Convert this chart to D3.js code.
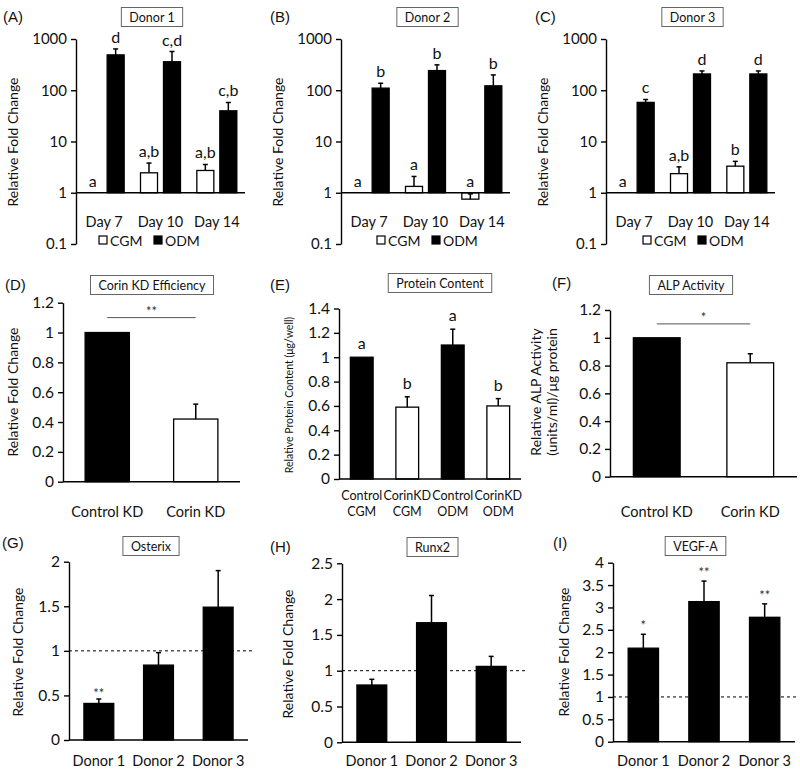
<!DOCTYPE html>
<html><head><meta charset="utf-8">
<script src="https://cdn.jsdelivr.net/npm/d3@7"></script>
<style>
body{margin:0;background:#fff}
svg{display:block}
text{font-family:Lato,"Open Sans",sans-serif;fill:#111}
</style>
</head><body>
<svg id="chart" width="800" height="774"></svg>
<script>
// ---------------- DATA ----------------
const days = ["Day 7", "Day 10", "Day 14"];
const media = ["CGM", "ODM"];
const donorTitles = ["Donor 1", "Donor 2", "Donor 3"];
const logTicks = [0.1, 1, 10, 100, 1000];

// Donor 1 (A)
const d1CGM = [1, 2.45, 2.72];
const d1CGMErr = [0, 1.35, 0.84];
const d1ODM = [490, 360, 39.7];
const d1ODMErr = [150, 210, 18];
const d1CGMLetters = ["a", "a,b", "a,b"];
const d1ODMLetters = ["d", "c,d", "c,b"];
// Donor 2 (B)
const d2CGM = [1, 1.33, 0.75];
const d2CGMErr = [0, 0.75, 0.2];
const d2ODM = [110, 242, 122];
const d2ODMErr = [27, 71, 77];
const d2CGMLetters = ["a", "a", "a"];
const d2ODMLetters = ["b", "b", "b"];
// Donor 3 (C)
const d3CGM = [1, 2.36, 3.3];
const d3CGMErr = [0, 0.84, 0.8];
const d3ODM = [58, 208, 208];
const d3ODMErr = [8, 30, 30];
const d3CGMLetters = ["a", "a,b", "b"];
const d3ODMLetters = ["c", "d", "d"];

// (D) Corin KD efficiency
const kdGroups = ["Control KD", "Corin KD"];
const kdMean = [1, 0.42];
const kdErr = [0, 0.1];
const kdTicks = [0, 0.2, 0.4, 0.6, 0.8, 1, 1.2];
// (E) Protein content
const proteinGroups = ["Control|CGM", "CorinKD|CGM", "Control|ODM", "CorinKD|ODM"];
const proteinMean = [1, 0.59, 1.10, 0.60];
const proteinErr = [0, 0.085, 0.13, 0.06];
const proteinLetters = ["a", "b", "a", "b"];
const proteinTicks = [0, 0.2, 0.4, 0.6, 0.8, 1, 1.2, 1.4];
// (F) ALP activity
const alpGroups = ["Control KD", "Corin KD"];
const alpMean = [1, 0.82];
const alpErr = [0, 0.065];
const alpTicks = [0, 0.2, 0.4, 0.6, 0.8, 1, 1.2];
// (G)(H)(I) gene expression
const donorCats = ["Donor 1", "Donor 2", "Donor 3"];
const osterixMean = [0.41, 0.84, 1.49];
const osterixErr = [0.05, 0.14, 0.41];
const osterixSig = ["**", "", ""];
const osterixTicks = [0, 0.5, 1, 1.5, 2];
const runx2Mean = [0.80, 1.67, 1.06];
const runx2Err = [0.08, 0.38, 0.14];
const runx2Sig = ["", "", ""];
const runx2Ticks = [0, 0.5, 1, 1.5, 2, 2.5];
const vegfMean = [2.09, 3.13, 2.78];
const vegfErr = [0.31, 0.46, 0.30];
const vegfSig = ["*", "**", "**"];
const vegfTicks = [0, 0.5, 1, 1.5, 2, 2.5, 3, 3.5, 4];

// ---------------- DRAWING ----------------
const svg = d3.select("#chart");
const fmt = d => String(+d.toFixed(2));
const AX = 1.4;

function title(cx, cy, txt, fs) {
  const g = svg.append("g");
  const t = g.append("text").attr("x", cx).attr("y", cy + fs * 0.36)
    .attr("text-anchor", "middle").attr("font-size", fs).text(txt);
  const w = t.node().getComputedTextLength() + 16;
  g.insert("rect", "text").attr("x", cx - w / 2).attr("y", cy - 9.5)
    .attr("width", w).attr("height", 19).attr("fill", "#fff")
    .attr("stroke", "#666").attr("stroke-width", 1);
}
function panelLabel(x, y, txt) {
  svg.append("text").attr("x", x).attr("y", y).attr("font-size", 15)
    .style("font-family", "'Liberation Sans',Arial,sans-serif").text(txt);
}
function yLabel(x, y, lines, fs) {
  const t = svg.append("text").attr("transform", `translate(${x},${y}) rotate(-90)`)
    .attr("text-anchor", "middle").attr("font-size", fs);
  lines.forEach((l, i) => {
    t.append("tspan").attr("x", 0).attr("dy", i === 0 ? -(lines.length - 1) * fs * 0.55 : fs * 1.1).text(l);
  });
}
function styleAxis(g, fs) {
  g.select(".domain").attr("stroke", "#000").attr("stroke-width", AX);
  g.selectAll(".tick line").attr("stroke", "#000").attr("stroke-width", AX);
  g.selectAll(".tick text").attr("font-size", fs).attr("fill", "#111")
    .style("font-family", "Lato,'Open Sans',sans-serif");
}
function errBar(x, yTop, yBot) {
  svg.append("line").attr("x1", x).attr("x2", x).attr("y1", yBot).attr("y2", yTop)
    .attr("stroke", "#000").attr("stroke-width", 1.5);
  svg.append("line").attr("x1", x - 2.5).attr("x2", x + 2.5).attr("y1", yTop).attr("y2", yTop)
    .attr("stroke", "#000").attr("stroke-width", 1.5);
}

// ---- log panels A-C ----
const topPanels = [
  {lab: "(A)", lx: 3, ax: 76, right: 245, tcx: 152, ylx: 18, legX: 99,
   cgm: d1CGM, cgmE: d1CGMErr, odm: d1ODM, odmE: d1ODMErr, lc: d1CGMLetters, lo: d1ODMLetters, t: donorTitles[0]},
  {lab: "(B)", lx: 270, ax: 341, right: 510, tcx: 427.5, ylx: 283, legX: 377,
   cgm: d2CGM, cgmE: d2CGMErr, odm: d2ODM, odmE: d2ODMErr, lc: d2CGMLetters, lo: d2ODMLetters, t: donorTitles[1]},
  {lab: "(C)", lx: 535, ax: 606, right: 775, tcx: 692.5, ylx: 548, legX: 643,
   cgm: d3CGM, cgmE: d3CGMErr, odm: d3ODM, odmE: d3ODMErr, lc: d3CGMLetters, lo: d3ODMLetters, t: donorTitles[2]}
];
topPanels.forEach(p => {
  const y = d3.scaleLog().domain([0.1, 1000]).range([244, 39]);
  const x0 = d3.scaleBand().domain(days).range([p.ax, p.right]).paddingInner(0.29).paddingOuter(0.145);
  const x1 = d3.scaleBand().domain(media).range([0, x0.bandwidth()]).paddingInner(0.26);
  panelLabel(p.lx, 22, p.lab);
  title(p.tcx, 17, p.t, 12.5);
  yLabel(p.ylx, 142, ["Relative Fold Change"], 14);
  const ga = svg.append("g").attr("transform", `translate(${p.ax},0)`)
    .call(d3.axisLeft(y).tickValues(logTicks).tickFormat(d => String(d)).tickSize(5).tickSizeOuter(0).tickPadding(4));
  styleAxis(ga, 15);
  const y1 = y(1);
  days.forEach((d, i) => {
    [["CGM", p.cgm[i], p.cgmE[i], p.lc[i], "#fff"], ["ODM", p.odm[i], p.odmE[i], p.lo[i], "#000"]].forEach(([m, v, e, letter, fill]) => {
      const bx = x0(d) + x1(m), bw = x1.bandwidth();
      const yv = y(v);
      if (Math.abs(yv - y1) > 0.5) {
        svg.append("rect").attr("x", bx).attr("y", Math.min(yv, y1)).attr("width", bw)
          .attr("height", Math.abs(yv - y1)).attr("fill", fill).attr("stroke", "#000").attr("stroke-width", 1.3);
      }
      let top = Math.min(yv, y1);
      if (e > 0) {
        const ye = y(v + e);
        errBar(bx + bw / 2, ye, yv);
        top = Math.min(top, ye);
      }
      svg.append("text").attr("x", bx + bw / 2).attr("y", top - 6).attr("text-anchor", "middle")
        .attr("font-size", 16).text(letter);
    });
    svg.append("text").attr("x", x0(d) + x0.bandwidth() / 2).attr("y", 227).attr("text-anchor", "middle")
      .attr("font-size", 14.5).text(d);
  });
  svg.append("line").attr("x1", p.ax).attr("x2", p.right).attr("y1", y1).attr("y2", y1)
    .attr("stroke", "#000").attr("stroke-width", AX);
  // legend
  media.forEach((m, i) => {
    const lx = p.legX + i * 55;
    svg.append("rect").attr("x", lx).attr("y", 236).attr("width", 8).attr("height", 8)
      .attr("fill", m === "CGM" ? "#fff" : "#000").attr("stroke", "#000").attr("stroke-width", 1.2);
    svg.append("text").attr("x", lx + 11).attr("y", 245.5).attr("font-size", 14).text(m);
  });
});

// ---- linear panels D-I ----
function linPanel(p) {
  const y = d3.scaleLinear().domain([0, p.max]).range([p.y0, p.yTop]);
  const x = d3.scaleBand().domain(p.cats).range([p.ax, p.right]).paddingInner(0.5).paddingOuter(0.25);
  panelLabel(p.lx, p.ly, p.lab);
  title(p.tcx, p.tcy, p.t, p.tfs || 12.5);
  yLabel(p.ylx, p.yly, p.ylab, p.ylfs);
  if (p.dash) {
    svg.append("line").attr("x1", p.ax).attr("x2", p.dashEnd).attr("y1", y(1)).attr("y2", y(1))
      .attr("stroke", "#000").attr("stroke-width", 1).attr("stroke-dasharray", "3,3");
  }
  p.cats.forEach((c, i) => {
    const bx = x(c), bw = x.bandwidth(), v = p.mean[i], e = p.err[i];
    svg.append("rect").attr("x", bx).attr("y", y(v)).attr("width", bw).attr("height", y(0) - y(v))
      .attr("fill", p.fills[i]).attr("stroke", "#000").attr("stroke-width", 1.3);
    let top = y(v);
    if (e > 0) { errBar(bx + bw / 2, y(v + e), y(v)); top = y(v + e); }
    if (p.letters && p.letters[i]) {
      svg.append("text").attr("x", bx + bw / 2).attr("y", top - 8).attr("text-anchor", "middle")
        .attr("font-size", 16).text(p.letters[i]);
    }
    if (p.sig && p.sig[i]) {
      svg.append("text").attr("x", bx + bw / 2).attr("y", top - 1 + (p.sigOff || 0)).attr("text-anchor", "middle")
        .attr("font-size", 13).style("fill", "#333").text(p.sig[i]);
    }
    const parts = c.split("|");
    parts.forEach((s, k) => {
      svg.append("text").attr("x", bx + bw / 2).attr("y", p.xly + k * 16).attr("text-anchor", "middle")
        .attr("font-size", p.xlfs).text(s);
    });
  });
  const ga = svg.append("g").attr("transform", `translate(${p.ax},0)`)
    .call(d3.axisLeft(y).tickValues(p.ticks).tickFormat(fmt).tickSize(5).tickSizeOuter(0).tickPadding(4));
  styleAxis(ga, p.tfsz || 15.5);
  svg.append("line").attr("x1", p.ax).attr("x2", p.right).attr("y1", y(0)).attr("y2", y(0))
    .attr("stroke", "#000").attr("stroke-width", AX);
  if (p.bracket) {
    const xa = x(p.cats[0]) + x.bandwidth() / 2, xb = x(p.cats[1]) + x.bandwidth() / 2, yb = y(p.bracket);
    svg.append("line").attr("x1", xa).attr("x2", xb).attr("y1", yb).attr("y2", yb)
      .attr("stroke", "#555").attr("stroke-width", 1);
    svg.append("text").attr("x", (xa + xb) / 2).attr("y", yb - 2).attr("text-anchor", "middle")
      .attr("font-size", 13).style("fill", "#333").text(p.bracketSig);
  }
}

linPanel({lab: "(D)", lx: 5, ly: 290, t: "Corin KD Efficiency", tcx: 152, tcy: 285,
  ylab: ["Relative Fold Change"], ylx: 18, yly: 392, ylfs: 14,
  cats: kdGroups, mean: kdMean, err: kdErr, fills: ["#000", "#fff"], ticks: kdTicks, max: 1.2,
  ax: 63, right: 240, y0: 481.7, yTop: 302.7, xly: 517, xlfs: 14.5, bracket: 1.1, bracketSig: "**"});

linPanel({lab: "(E)", lx: 270, ly: 290, t: "Protein Content", tcx: 440, tcy: 283,
  ylab: ["Relative Protein Content (μg/well)"], ylx: 293, yly: 395, ylfs: 10.5,
  cats: proteinGroups, mean: proteinMean, err: proteinErr, fills: ["#000", "#fff", "#000", "#fff"],
  letters: proteinLetters, ticks: proteinTicks, max: 1.4,
  ax: 339, right: 521, y0: 479, yTop: 308.5, xly: 500, xlfs: 12.5});

linPanel({lab: "(F)", lx: 552, ly: 288, t: "ALP Activity", tcx: 691, tcy: 285,
  ylab: ["Relative ALP Activity", "(units/ml)/μg protein"], ylx: 549, yly: 392, ylfs: 14,
  cats: alpGroups, mean: alpMean, err: alpErr, fills: ["#000", "#fff"], ticks: alpTicks, max: 1.2,
  ax: 610, right: 797, y0: 476.7, yTop: 310, xly: 517, xlfs: 14.5, bracket: 1.1, bracketSig: "*"});

linPanel({lab: "(G)", lx: 2, ly: 548, t: "Osterix", tcx: 151, tcy: 546,
  ylab: ["Relative Fold Change"], ylx: 23, yly: 652, ylfs: 14,
  cats: donorCats, mean: osterixMean, err: osterixErr, fills: ["#000", "#000", "#000"],
  sig: osterixSig, ticks: osterixTicks, max: 2, dash: true, dashEnd: 252,
  ax: 69, right: 248, y0: 740, yTop: 561.7, xly: 766, xlfs: 14.5});

linPanel({lab: "(H)", lx: 270, ly: 552, t: "Runx2", tcx: 432.5, tcy: 547,
  ylab: ["Relative Fold Change"], ylx: 293, yly: 654, ylfs: 14,
  cats: donorCats, mean: runx2Mean, err: runx2Err, fills: ["#000", "#000", "#000"],
  sig: runx2Sig, ticks: runx2Ticks, max: 2.5, dash: true, dashEnd: 525,
  ax: 342, right: 521, y0: 742.3, yTop: 563.3, xly: 766, xlfs: 14.5});

linPanel({lab: "(I)", lx: 553, ly: 548, t: "VEGF-A", tcx: 695.5, tcy: 546,
  ylab: ["Relative Fold Change"], ylx: 569, yly: 652, ylfs: 14,
  cats: donorCats, mean: vegfMean, err: vegfErr, fills: ["#000", "#000", "#000"],
  sig: vegfSig, sigOff: -3, ticks: vegfTicks, max: 4, dash: true, dashEnd: 798,
  ax: 613, right: 795, y0: 741.7, yTop: 562.7, xly: 766, xlfs: 14.5});
</script>
</body></html>
